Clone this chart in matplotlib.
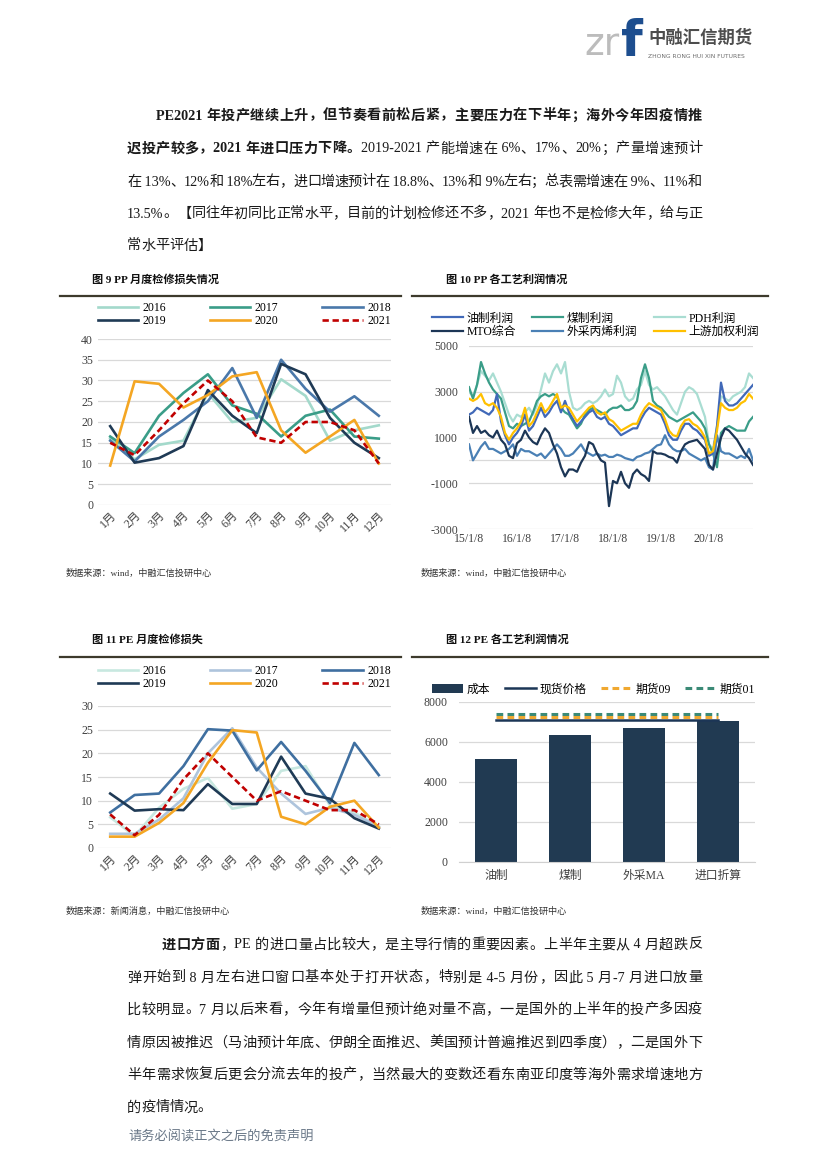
import numpy as np
import matplotlib
matplotlib.use('Agg')
import matplotlib.pyplot as plt
from matplotlib.lines import Line2D

plt.rcParams['font.family'] = ['Liberation Serif', 'Noto Sans CJK SC', 'DejaVu Sans']
plt.rcParams['axes.unicode_minus'] = False

W, H = 826, 1169

# ---------------- data ----------------
months = ['1月', '2月', '3月', '4月', '5月', '6月', '7月', '8月', '9月', '10月', '11月', '12月']
years = ['2016', '2017', '2018', '2019', '2020', '2021']

pp_2016 = [16, 11, 14.5, 15.5, 27, 20, 21, 30.3, 26.3, 15.5, 18, 19.2]
pp_2017 = [16.5, 12.5, 21.5, 27, 31.5, 24, 22, 16.5, 21.5, 23, 16.5, 16]
pp_2018 = [15.5, 10.5, 16.5, 20.5, 25, 33, 21, 35, 28, 22.5, 26.2, 21.5]
pp_2019 = [19, 10.2, 11.3, 14.2, 27.7, 21.5, 17.3, 34, 31.5, 21, 15, 11.3]
pp_2020 = [9.5, 29.8, 29.2, 23.5, 26.5, 31, 32, 18, 12.6, 16.5, 20.5, 10]
pp_2021 = [15, 12, 18, 24.5, 30, 25, 16.3, 15, 20, 20, 18, 10]

pe_2016 = [6.5, 2.5, 8.5, 12.5, 14.8, 8.3, 9.3, 16.3, 17.3, 9, 7.5, 4.5]
pe_2017 = [3, 3, 6, 10.5, 20, 25.3, 17, 11.5, 7.2, 8.5, 7, 4.5]
pe_2018 = [7.5, 11.2, 11.5, 17.3, 25.1, 24.8, 16.4, 22.4, 16.3, 9.5, 22.2, 15.4]
pe_2019 = [11.5, 7.9, 8.2, 8, 13.5, 9.3, 9.3, 19.3, 11.5, 10.4, 6.3, 4.1]
pe_2020 = [2.4, 2.4, 5.3, 9.5, 18, 24.9, 24.4, 6.6, 5, 8.7, 10, 4.3]
pe_2021 = [7.1, 2.7, 7, 14.5, 20, 15, 10, 12, 10, 8, 8, 5]

# PP profit, monthly readings Jan 2015 - Dec 2020
date_ticks = ['15/1/8', '16/1/8', '17/1/8', '18/1/8', '19/1/8', '20/1/8']
profit_oil = [2000, 2100, 2300, 2200, 2100, 2000, 2200, 2900, 1700, 1100, 700, 1000,
              1200, 1500, 2000, 1300, 1500, 1900, 2300, 1900, 2100, 2400, 2600, 2100,
              2600, 2100, 1800, 1500, 1700, 1900, 2100, 2200, 1900, 1800, 1900, 1600,
              1500, 1300, 1100, 1200, 1300, 1400, 1400, 1800, 2100, 2300, 2200, 2100,
              2000, 1600, 1100, 900, 900, 1300, 1600, 1600, 1400, 1300, 1100, 900,
              200, 300, 1500, 3400, 2600, 2400, 2400, 2500, 2700, 2900, 3100, 3300]
profit_coal = [3200, 2700, 3300, 4300, 3800, 3400, 3100, 2900, 2700, 2100, 1500, 1400,
               1600, 1500, 1600, 1700, 2100, 2600, 2800, 2900, 2800, 2900, 2800, 2300,
               2100, 2000, 1700, 1400, 1600, 2000, 2200, 2300, 2200, 2100, 2000, 2200,
               2300, 2300, 2400, 2200, 2200, 2300, 2600, 3600, 4200, 3600, 2600, 2400,
               2300, 2100, 1900, 1800, 1700, 1800, 1900, 2000, 2100, 1900, 1700, 1400,
               700, 300, -300, 1200, 1400, 1500, 1400, 1300, 1300, 1300, 1700, 1900]
profit_pdh = [3000, 2800, 3300, 3900, 3700, 3500, 3800, 3400, 3000, 2500, 2000, 1700,
              2000, 1900, 2100, 2300, 2000, 2400, 3100, 3800, 3400, 3900, 4200, 3800,
              4300, 3000, 2300, 2200, 2300, 2500, 2600, 2500, 2600, 2800, 3100, 2800,
              2900, 3700, 3400, 2800, 2600, 2700, 3100, 3300, 3900, 3300, 3100, 3200,
              3000, 2800, 2500, 2200, 2000, 2500, 3000, 3200, 3100, 2900, 2400, 1900,
              700, 500, 1500, 2800, 2700, 2600, 2800, 2900, 3000, 3200, 3800, 3600]
profit_mto = [1900, 1200, 1500, 1200, 1300, 1100, 1000, 1300, 900, 700, 200, 100,
              750, 900, 1300, 1000, 800, 700, 1100, 1400, 1200, 700, 300, -300,
              -700, -400, -400, -500, -100, 200, 800, 700, 300, 0, -100, -2000,
              -900, -1000, -500, -1000, -1200, -600, -400, -600, -700, -900, 400, 300,
              300, 250, 150, 100, -100, 400, 700, 800, 850, 900, 700, 500,
              -200, -400, 300, 1000, 1400, 1300, 1100, 900, 600, 300, 100, -200]
profit_buy = [700, 0, 300, 600, 800, 500, 500, 400, 300, 400, 500, 700,
              200, 500, 400, 400, 300, 200, 300, 100, 300, 500, 700, 500,
              200, 200, 300, 500, 700, 400, 300, 200, 300, 200, 250, 150,
              150, 250, 200, 100, 50, 0, 150, 200, 300, 350, 500, 650,
              700, 1100, 700, 500, 400, 400, 500, 300, 200, 100, 0, 100,
              -300, -400, 1100, 400, 300, 300, 200, 100, 200, 100, 500, 0]
profit_wtd = [2700, 2600, 2700, 2900, 2500, 2400, 2500, 2300, 1900, 1200, 900, 1200,
              1400, 1700, 2300, 1500, 1700, 2100, 2500, 2100, 2300, 2600, 2900, 2300,
              2400, 2300, 2000, 1700, 1900, 2100, 2300, 2400, 2100, 2000, 2100, 1800,
              1700, 1500, 1300, 1400, 1500, 1600, 1600, 2000, 2300, 2500, 2400, 2300,
              2200, 1800, 1300, 1100, 1050, 1500, 1750, 1800, 1600, 1500, 1300, 1000,
              300, 400, 1300, 2500, 2300, 2200, 2200, 2300, 2500, 2600, 2900, 2700]

# PE cost vs price
routes = ['油制', '煤制', '外采MA', '进口折算']
cost = [5150, 6350, 6700, 7050]
spot = 7100
fut09 = 7270
fut01 = 7380

# ---------------- figure ----------------
fig = plt.figure(figsize=(W / 100, H / 100), dpi=100)
renderer = fig.canvas.get_renderer()


def fx(x):
    return x / W


def fy(y):
    return 1 - y / H


def tokens(parts):
    out = []
    for s, bold in parts:
        buf = ''
        for ch in s:
            if ord(ch) < 128:
                buf += ch
            else:
                if buf:
                    out.append((buf, bold))
                    buf = ''
                out.append((ch, bold))
        if buf:
            out.append((buf, bold))
    return out


def text_line(y, parts, x0, x1=None, fs=10.2, color='#1a1a1a'):
    toks = tokens(parts)
    widths = []
    for s, bold in toks:
        t = fig.text(0, 0, s, fontsize=fs, fontweight='bold' if bold else 'normal')
        widths.append(t.get_window_extent(renderer).width)
        t.remove()
    gap = 0
    if x1 is not None and len(toks) > 1:
        gap = (x1 - x0 - sum(widths)) / (len(toks) - 1)
    x = x0
    for (s, bold), w in zip(toks, widths):
        fig.text(fx(x), fy(y), s, fontsize=fs, fontweight='bold' if bold else 'normal',
                 va='center', ha='left', color=color)
        x += w + gap


# logo
fig.text(fx(584), fy(45), 'zr', fontsize=27, color='#bcbcbc', family='DejaVu Sans',
         va='center', ha='left')
fig.text(fx(621), fy(42), 'f', fontsize=36, color='#1d4e8f', family='DejaVu Sans',
         fontweight='bold', va='center', ha='left')
fig.text(fx(648), fy(38), '中融汇信期货', fontsize=12.5, color='#4d4d4d',
         family='Noto Sans CJK SC', fontweight='bold', va='center', ha='left')
fig.text(fx(648), fy(57), 'ZHONG RONG HUI XIN FUTURES', fontsize=4.3, color='#6d6d6d',
         family='DejaVu Sans', va='center', ha='left')

# paragraph 1
L, R = 127, 702
text_line(116, [('PE2021 年投产继续上升，但节奏看前松后紧，主要压力在下半年；海外今年因疫情推', True)], 156, R)
text_line(149, [('迟投产较多，2021 年进口压力下降。', True),
                ('2019-2021 产能增速在 6%、17%、20%；产量增速预计', False)], L, R)
text_line(182, [('在 13%、12%和 18%左右，进口增速预计在 18.8%、13%和 9%左右；总表需增速在 9%、11%和', False)], L, R)
text_line(214, [('13.5%。【同往年初同比正常水平，目前的计划检修还不多，2021 年也不是检修大年，给与正', False)], L, R)
text_line(246, [('常水平评估】', False)], L)


# captions / rules / sources
def caption(x, y, s):
    fig.text(fx(x), fy(y), s, fontsize=8, fontweight='bold', va='center', ha='left', color='#111111')


def source(x, y, s):
    fig.text(fx(x), fy(y), s, fontsize=6.6, va='center', ha='left', color='#333333')


caption(92, 279, '图 9 PP 月度检修损失情况')
caption(446, 279, '图 10 PP 各工艺利润情况')
caption(92, 639, '图 11 PE 月度检修损失')
caption(446, 639, '图 12 PE 各工艺利润情况')
for yy in (296, 657):
    fig.add_artist(Line2D([fx(60), fx(401)], [fy(yy), fy(yy)], color='#3d3a2c', lw=1.6))
    fig.add_artist(Line2D([fx(412), fx(768)], [fy(yy), fy(yy)], color='#3d3a2c', lw=1.6))
source(66, 573, '数据来源：wind，中融汇信投研中心')
source(421, 573, '数据来源：wind，中融汇信投研中心')
source(66, 911, '数据来源：新闻消息，中融汇信投研中心')
source(421, 911, '数据来源：wind，中融汇信投研中心')


def style_axes(ax):
    for sp in ax.spines.values():
        sp.set_visible(False)
    ax.grid(axis='y', color='#d9d9d9', lw=0.9)
    ax.set_axisbelow(True)
    ax.tick_params(length=0, labelsize=8.5, colors='#404040')


def month_chart(rect, series, colors, ymax, leg_y):
    ax = fig.add_axes(rect)
    x = np.arange(len(months))
    handles = []
    for vals, lab, col in zip(series, years, colors):
        if lab == '2021':
            h, = ax.plot(x, vals, color=col, lw=1.9, ls=(0, (2.4, 1.4)), label=lab)
        else:
            h, = ax.plot(x, vals, color=col, lw=1.9, label=lab)
        handles.append(h)
    ax.set_xlim(-0.5, 11.5)
    ax.set_ylim(0, ymax)
    ax.set_yticks(np.arange(0, ymax + 1, 5))
    ax.set_xticks(x)
    ax.set_xticklabels(months, rotation=45, ha='right', rotation_mode='anchor')
    style_axes(ax)
    ax.tick_params(axis='x', pad=3)
    order = [0, 3, 1, 4, 2, 5]
    ax.legend([handles[i] for i in order], [years[i] for i in order], ncol=3,
              loc='lower left', bbox_to_anchor=(0, leg_y, 1, 0.1), mode='expand',
              frameon=False, fontsize=8.5, handlelength=3.4, handletextpad=0.4,
              borderaxespad=0, borderpad=0, labelspacing=0.1)
    return ax


pp_colors = ['#a3d9cb', '#3a9d88', '#4a78aa', '#1f3a55', '#f4a623', '#c00000']
month_chart([fx(98), fy(505), 293 / W, 166 / H],
            [pp_2016, pp_2017, pp_2018, pp_2019, pp_2020, pp_2021], pp_colors, 40, 1.07)

pe_colors = ['#c8e8e0', '#aec4dc', '#3f6fa0', '#1f3a55', '#f4a623', '#c00000']
month_chart([fx(98), fy(848), 293 / W, 142 / H],
            [pe_2016, pe_2017, pe_2018, pe_2019, pe_2020, pe_2021], pe_colors, 30, 1.11)

# chart 10
ax10 = fig.add_axes([fx(469), fy(529), 284 / W, 183 / H])
t = np.arange(len(profit_oil))
lines = {}
for vals, lab, col in [(profit_pdh, 'PDH利润', '#a9ddd2'), (profit_coal, '煤制利润', '#3a9d88'),
                       (profit_oil, '油制利润', '#4169b8'), (profit_buy, '外采丙烯利润', '#4a80b5'),
                       (profit_mto, 'MTO综合', '#1c3656'), (profit_wtd, '上游加权利润', '#ffc000')]:
    lines[lab], = ax10.plot(t, vals, color=col, lw=1.6, label=lab)
ax10.axhline(0, color='#d9d9d9', lw=0.9, zorder=0)
ax10.set_xlim(0, len(t) - 1)
ax10.set_ylim(-3000, 5000)
ax10.set_yticks([-3000, -1000, 1000, 3000, 5000])
ax10.set_xticks(np.arange(0, 72, 12))
ax10.set_xticklabels(date_ticks)
style_axes(ax10)
ax10.tick_params(axis='y', pad=8)
ax10.tick_params(axis='x', pad=3)
leg_order = ['油制利润', 'MTO综合', '煤制利润', '外采丙烯利润', 'PDH利润', '上游加权利润']
ax10.legend([lines[k] for k in leg_order], leg_order, ncol=3, loc='lower left',
            bbox_to_anchor=(-0.13, 1.045, 1.15, 0.1), mode='expand', frameon=False,
            fontsize=8.5, handlelength=2.6, handletextpad=0.3, borderaxespad=0,
            borderpad=0, labelspacing=0.1)

# chart 12
ax12 = fig.add_axes([fx(459), fy(862), 296 / W, 160 / H])
xc = np.arange(len(routes))
h_cost = ax12.bar(xc, cost, width=0.57, color='#213a52', label='成本', zorder=2)
h_spot, = ax12.plot([xc[0], xc[-1]], [spot, spot], color='#1c3656', lw=1.8, zorder=3, label='现货价格')
h_09, = ax12.plot([xc[0], xc[-1]], [fut09, fut09], color='#f0a830', lw=2.2, ls=(0, (2.2, 1.4)), zorder=3, label='期货09')
h_01, = ax12.plot([xc[0], xc[-1]], [fut01, fut01], color='#3b8a76', lw=2.2, ls=(0, (2.2, 1.4)), zorder=3, label='期货01')
ax12.set_xlim(-0.5, 3.5)
ax12.set_ylim(0, 8000)
ax12.set_yticks(np.arange(0, 8001, 2000))
ax12.set_xticks(xc)
ax12.set_xticklabels(routes)
style_axes(ax12)
ax12.spines['bottom'].set_visible(True)
ax12.spines['bottom'].set_color('#d0d0d0')
ax12.tick_params(axis='y', pad=8)
ax12.tick_params(axis='x', pad=6)
ax12.legend([h_cost, h_spot, h_09, h_01], ['成本', '现货价格', '期货09', '期货01'],
            ncol=4, loc='lower left', bbox_to_anchor=(-0.09, 1.04, 1.09, 0.1), mode='expand',
            frameon=False, fontsize=8.5, handlelength=2.6, handletextpad=0.3,
            borderaxespad=0, borderpad=0)

# paragraph 2
text_line(945, [('进口方面', True), ('，PE 的进口量占比较大，是主导行情的重要因素。上半年主要从 4 月超跌反', False)], 162, R)
text_line(978, [('弹开始到 8 月左右进口窗口基本处于打开状态，特别是 4-5 月份，因此 5 月-7 月进口放量', False)], L, R)
text_line(1010, [('比较明显。7 月以后来看，今年有增量但预计绝对量不高，一是国外的上半年的投产多因疫', False)], L, R)
text_line(1043, [('情原因被推迟（马油预计年底、伊朗全面推迟、美国预计普遍推迟到四季度），二是国外下', False)], L, R)
text_line(1075, [('半年需求恢复后更会分流去年的投产，当然最大的变数还看东南亚印度等海外需求增速地方', False)], L, R)
text_line(1108, [('的疫情情况。', False)], L)

fig.text(fx(128), fy(1137), '请务必阅读正文之后的免责声明', fontsize=9.5, color='#6a7888',
         va='center', ha='left')

fig.savefig('out.png', dpi=100)
